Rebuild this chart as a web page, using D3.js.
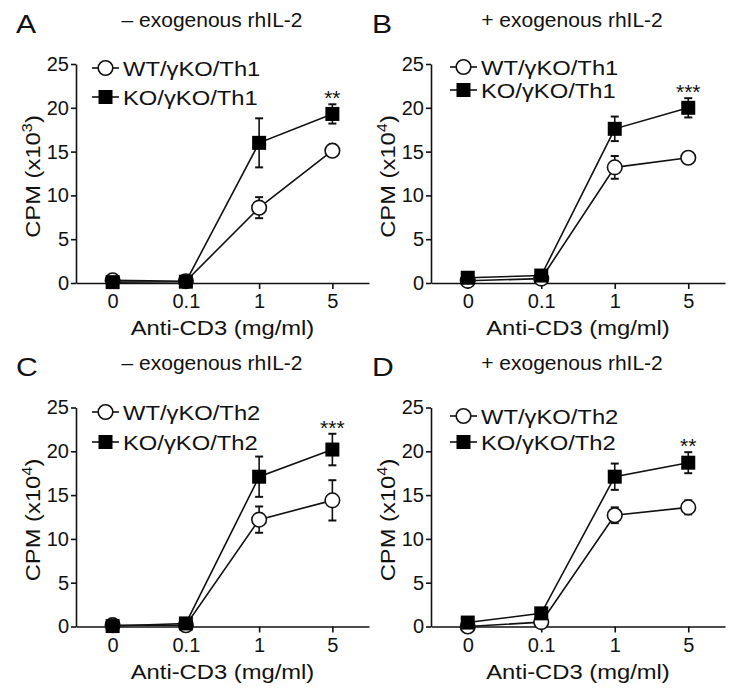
<!DOCTYPE html>
<html><head><meta charset="utf-8">
<script src="https://cdn.jsdelivr.net/npm/d3@7/dist/d3.min.js"></script>
<style>
body{margin:0;background:#fff}
svg{display:block}
text{font-family:"Liberation Sans",Arial,Helvetica,sans-serif;fill:#111}
</style>
</head><body>
<svg id="c" width="743" height="697"></svg>
<script>
// ---------- data ----------
const doses = ["0", "0.1", "1", "5"];
const yTicks = [0, 5, 10, 15, 20, 25];
const panelLetters = ["A", "B", "C", "D"];
const panelTitles = ["\u2013 exogenous rhIL-2", "+ exogenous rhIL-2", "\u2013 exogenous rhIL-2", "+ exogenous rhIL-2"];
const yExponents = ["3", "4", "4", "4"];
const wtNames = ["WT/\u03B3KO/Th1", "WT/\u03B3KO/Th1", "WT/\u03B3KO/Th2", "WT/\u03B3KO/Th2"];
const koNames = ["KO/\u03B3KO/Th1", "KO/\u03B3KO/Th1", "KO/\u03B3KO/Th2", "KO/\u03B3KO/Th2"];
const significance = ["**", "***", "***", "**"];

// Panel A (x10^3)
const wtA = [0.3, 0.2, 8.6, 15.1];
const wtAErr = [0, 0, 1.2, 0.3];
const koA = [0.1, 0.15, 16.0, 19.3];
const koAErr = [0, 0, 2.8, 1.1];
// Panel B (x10^4)
const wtB = [0.25, 0.5, 13.2, 14.3];
const wtBErr = [0, 0, 1.3, 0.4];
const koB = [0.6, 0.85, 17.6, 20.0];
const koBErr = [0, 0, 1.4, 1.1];
// Panel C (x10^4)
const wtC = [0.15, 0.15, 12.2, 14.4];
const wtCErr = [0, 0, 1.5, 2.3];
const koC = [0.05, 0.35, 17.1, 20.2];
const koCErr = [0, 0, 2.3, 1.8];
// Panel D (x10^4)
const wtD = [0.0, 0.5, 12.7, 13.6];
const wtDErr = [0, 0, 0.9, 0.8];
const koD = [0.45, 1.5, 17.1, 18.7];
const koDErr = [0, 0, 1.5, 1.2];

const wtSeries = [[wtA, wtAErr], [wtB, wtBErr], [wtC, wtCErr], [wtD, wtDErr]];
const koSeries = [[koA, koAErr], [koB, koBErr], [koC, koCErr], [koD, koDErr]];

// ---------- layout ----------
const layouts = [
  {x0: 76, x1: 369, yb: 283, yt: 64, leg: [92, 68, 97], title: [212, 27], letter: [16, 33]},
  {x0: 431, x1: 725, yb: 283, yt: 64, leg: [450, 67, 90], title: [572, 27], letter: [372, 33]},
  {x0: 76, x1: 369, yb: 626.5, yt: 407.5, leg: [92, 412, 442], title: [212, 370], letter: [16, 376]},
  {x0: 431, x1: 725, yb: 626.5, yt: 407.5, leg: [450, 416, 442], title: [572, 370], letter: [372, 376]}
];

const svg = d3.select("#c");
const SW = 1.6;
const STRETCH = 1.16;

// text placed at (x,y) with horizontal widening, optional rotation
function wideText(g, x, y, size, anchor, rot) {
  return g.append("text")
    .attr("transform", `translate(${x},${y})` + (rot ? ` rotate(${rot})` : "") + ` scale(${STRETCH},1)`)
    .attr("text-anchor", anchor).attr("font-size", size);
}

layouts.forEach((L, i) => {
  const g = svg.append("g");
  const x = d3.scalePoint().domain(doses).range([L.x0, L.x1]).padding(0.5);
  const y = d3.scaleLinear().domain([0, 25]).range([L.yb, L.yt]);

  // axes
  const ya = g.append("g").attr("transform", `translate(${L.x0},0)`)
    .call(d3.axisLeft(y).tickValues(yTicks).tickSize(5).tickSizeOuter(0).tickPadding(2));
  const xa = g.append("g").attr("transform", `translate(0,${L.yb})`)
    .call(d3.axisBottom(x).tickSize(6).tickSizeOuter(0).tickPadding(5));
  [ya, xa].forEach(a => {
    a.select(".domain").attr("stroke", "#111").attr("stroke-width", SW);
    a.selectAll(".tick line").attr("stroke", "#111").attr("stroke-width", SW);
    a.selectAll(".tick text").attr("font-size", 20).attr("fill", "#111")
      .style("font-family", '"Liberation Sans",Arial,sans-serif');
  });

  // axis titles
  wideText(g, (L.x0 + L.x1) / 2, L.yb + 52, 20.5, "middle").text("Anti-CD3 (mg/ml)");
  const yl = wideText(g, L.x0 - 36, (L.yb + L.yt) / 2 + 3, 20.5, "middle", -90);
  yl.append("tspan").text("CPM (x10");
  yl.append("tspan").attr("font-size", 14).attr("dy", -8).text(yExponents[i]);
  yl.append("tspan").attr("dy", 8).text(")");

  // title + panel letter
  g.append("text").attr("x", L.title[0]).attr("y", L.title[1])
    .attr("text-anchor", "middle").attr("font-size", 21).text(panelTitles[i]);
  wideText(g, L.letter[0], L.letter[1], 26, "start").text(panelLetters[i]);

  const line = d3.line().x((d, k) => x(doses[k])).y(d => y(d));
  const drawSeries = (vals, errs) => {
    vals.forEach((v, k) => {
      if (errs[k] <= 0) return;
      const cx = x(doses[k]);
      g.append("line").attr("x1", cx).attr("x2", cx)
        .attr("y1", y(v - errs[k])).attr("y2", y(v + errs[k]))
        .attr("stroke", "#111").attr("stroke-width", SW);
      [v - errs[k], v + errs[k]].forEach(e => {
        g.append("line").attr("x1", cx - 4).attr("x2", cx + 4)
          .attr("y1", y(e)).attr("y2", y(e))
          .attr("stroke", "#111").attr("stroke-width", SW + 0.4);
      });
    });
    g.append("path").datum(vals).attr("d", line).attr("fill", "none")
      .attr("stroke", "#111").attr("stroke-width", SW);
  };
  const marker = (cx, cy, filled) => {
    if (filled) {
      g.append("rect").attr("x", cx - 7).attr("y", cy - 7)
        .attr("width", 14).attr("height", 14).attr("fill", "#000");
    } else {
      g.append("circle").attr("cx", cx).attr("cy", cy).attr("r", 7.3)
        .attr("fill", "#fff").attr("stroke", "#111").attr("stroke-width", SW);
    }
  };
  drawSeries(wtSeries[i][0], wtSeries[i][1]);
  drawSeries(koSeries[i][0], koSeries[i][1]);
  wtSeries[i][0].forEach((v, k) => marker(x(doses[k]), y(v), false));
  koSeries[i][0].forEach((v, k) => marker(x(doses[k]), y(v), true));

  // significance stars
  const kLast = doses.length - 1;
  const topVal = koSeries[i][0][kLast] + koSeries[i][1][kLast];
  g.append("text").attr("x", x(doses[kLast])).attr("y", y(topVal) + 1)
    .attr("text-anchor", "middle").attr("font-size", 21).text(significance[i]);

  // legend
  const [lx, ly1, ly2] = L.leg;
  [[ly1, false, wtNames[i]], [ly2, true, koNames[i]]].forEach(([ly, filled, name]) => {
    g.append("line").attr("x1", lx).attr("x2", lx + 27).attr("y1", ly).attr("y2", ly)
      .attr("stroke", "#111").attr("stroke-width", SW);
    marker(lx + 13.5, ly, filled);
    wideText(g, lx + 31, ly + 7.5, 20.5, "start").text(name);
  });
});
</script>
</body></html>
